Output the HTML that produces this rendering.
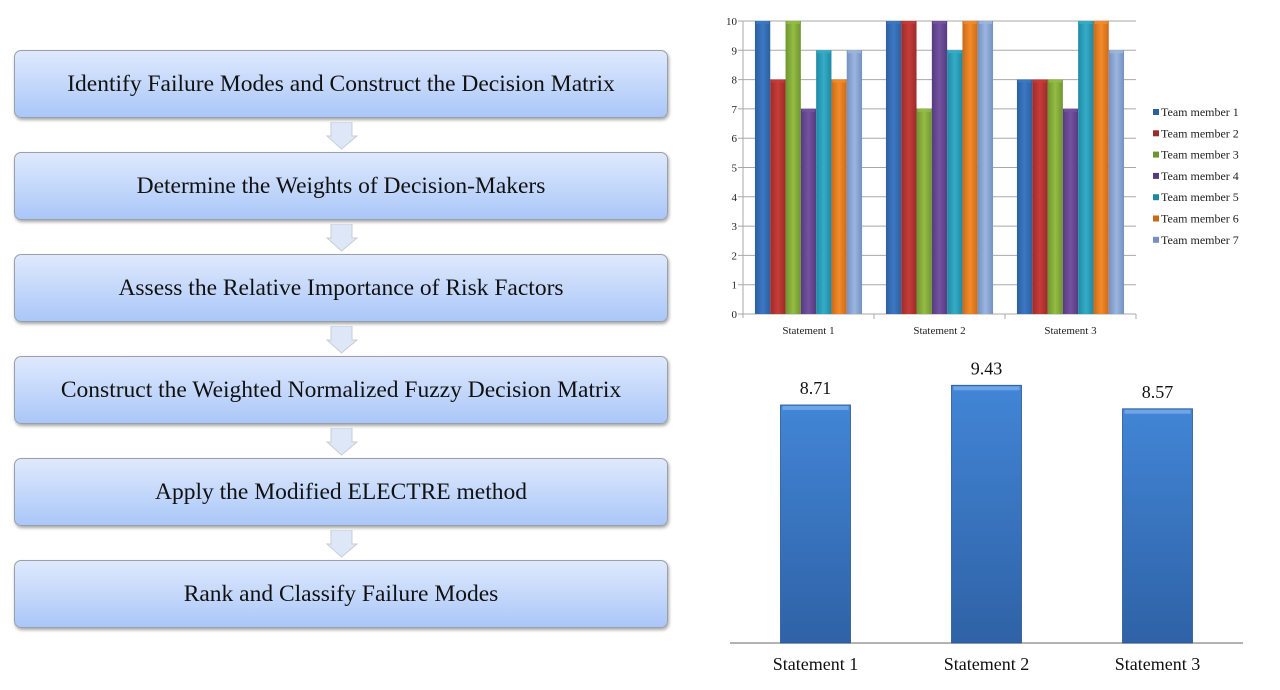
<!DOCTYPE html>
<html><head><meta charset="utf-8"><style>
body{margin:0;width:1280px;height:690px;background:#fff;position:relative;overflow:hidden;font-family:"Liberation Serif",serif;}
.box{position:absolute;left:14px;width:652px;height:66px;border:1px solid #9aa0a8;border-radius:7px;background:linear-gradient(#dfe9fd,#aac7f8);box-shadow:1px 2px 3px rgba(0,0,0,0.35);display:flex;align-items:center;justify-content:center;font-size:23.5px;color:#111;}
.arrow{position:absolute;left:326px;width:32px;height:28px;}
</style></head><body>
<div>
<div class="box" style="top:50px">Identify Failure Modes and Construct the Decision Matrix</div>
<div class="box" style="top:152px">Determine the Weights of Decision-Makers</div>
<div class="box" style="top:254px">Assess the Relative Importance of Risk Factors</div>
<div class="box" style="top:356px">Construct the Weighted Normalized Fuzzy Decision Matrix</div>
<div class="box" style="top:458px">Apply the Modified ELECTRE method</div>
<div class="box" style="top:560px">Rank and Classify Failure Modes</div>
<svg class="arrow" style="top:122px" viewBox="0 0 32 28"><path d="M5 0H26V14H31L15.5 27L1 14H5Z" fill="#dde7f7" stroke="#c8ccd4"/></svg>
<svg class="arrow" style="top:224px" viewBox="0 0 32 28"><path d="M5 0H26V14H31L15.5 27L1 14H5Z" fill="#dde7f7" stroke="#c8ccd4"/></svg>
<svg class="arrow" style="top:326px" viewBox="0 0 32 28"><path d="M5 0H26V14H31L15.5 27L1 14H5Z" fill="#dde7f7" stroke="#c8ccd4"/></svg>
<svg class="arrow" style="top:428px" viewBox="0 0 32 28"><path d="M5 0H26V14H31L15.5 27L1 14H5Z" fill="#dde7f7" stroke="#c8ccd4"/></svg>
<svg class="arrow" style="top:530px" viewBox="0 0 32 28"><path d="M5 0H26V14H31L15.5 27L1 14H5Z" fill="#dde7f7" stroke="#c8ccd4"/></svg>
</div>
<svg id="topchart" width="1280" height="690" style="position:absolute;left:0;top:0;pointer-events:none" font-family="Liberation Serif, serif"></svg>
<svg id="botchart" width="1280" height="690" style="position:absolute;left:0;top:0;pointer-events:none" font-family="Liberation Serif, serif"></svg>
<script>
const categories=["Statement 1","Statement 2","Statement 3"];
const seriesNames=["Team member 1","Team member 2","Team member 3","Team member 4","Team member 5","Team member 6","Team member 7"];
const member1=[10,10,8];
const member2=[8,10,8];
const member3=[10,7,8];
const member4=[7,10,7];
const member5=[9,9,10];
const member6=[8,10,10];
const member7=[9,10,9];
const yTicks=[0,1,2,3,4,5,6,7,8,9,10];
const averages=[8.71,9.43,8.57];
const avgLabels=["8.71","9.43","8.57"];

const NS="http://www.w3.org/2000/svg";
function mk(p,t,a){const e=document.createElementNS(NS,t);for(const k in a)e.setAttribute(k,a[k]);p.appendChild(e);return e;}
const colors=[["#2d5f9e","#3b78c4"],["#9c2b2b","#c63c39"],["#6f9431","#93bd43"],["#563b7e","#7452a0"],["#1f89a3","#35acc8"],["#c96a1b","#f48b28"],["#7390bf","#9bb6e0"]];
const series=[member1,member2,member3,member4,member5,member6,member7];
const topSvg=document.getElementById('topchart');
const defs=mk(topSvg,'defs',{});
colors.forEach((c,i)=>{const g=mk(defs,'linearGradient',{id:'g'+i,x1:0,x2:1,y1:0,y2:0});
mk(g,'stop',{offset:0,'stop-color':c[0]});mk(g,'stop',{offset:0.5,'stop-color':c[1]});mk(g,'stop',{offset:1,'stop-color':c[0]});});
const X0=743,X1=1136,Y0=314,Y10=21;
const yS=v=>Y0-(Y0-Y10)*v/10;
const cw=(X1-X0)/categories.length, bw=15.3, pad=(cw-bw*7)/2;
yTicks.forEach(t=>{
 const l=mk(topSvg,'line',{x1:X0-5,x2:X1,y1:yS(t),y2:yS(t),stroke:'#a8a8a8'});
 
 
 const tx=mk(topSvg,'text',{x:X0-6,y:yS(t)+4,'text-anchor':'end','font-size':11,fill:'#222'});tx.textContent=t;
 
 
});
mk(topSvg,'line',{x1:X0,x2:X0,y1:Y10,y2:Y0+4,stroke:'#a8a8a8'});
categories.forEach((c,ci)=>{
 mk(topSvg,'line',{x1:X0+cw*(ci+1),x2:X0+cw*(ci+1),y1:Y0,y2:Y0+5,stroke:'#a8a8a8'});
 const tx=mk(topSvg,'text',{x:X0+cw*(ci+0.5),y:Y0+20,'text-anchor':'middle','font-size':11,fill:'#222'});tx.textContent=c;
 
 
 series.forEach((s,si)=>{
  const x=X0+cw*ci+pad+bw*si,y=yS(s[ci]);
  const r=mk(topSvg,'rect',{x:x,y:y,width:bw,height:Y0-y,fill:'url(#g'+si+')'});
  
  
  mk(topSvg,'rect',{x:x+1,y:y,width:bw-2,height:3,fill:colors[si][1],opacity:0.8});
 });
});
seriesNames.forEach((n,i)=>{
 const y=113+i*21.3;
 const m=mk(topSvg,'rect',{x:1153,y:y-4,width:6,height:6,fill:colors[i][0]});
 
 
 const tx=mk(topSvg,'text',{x:1161,y:y+3,'font-size':12,fill:'#222'});tx.textContent=n;
 
 
});

const botSvg=document.getElementById('botchart');
const d2=mk(botSvg,'defs',{});
const bg=mk(d2,'linearGradient',{id:'bg',x1:0,x2:0,y1:0,y2:1});
mk(bg,'stop',{offset:0,'stop-color':'#4285d6'});mk(bg,'stop',{offset:1,'stop-color':'#2f62a6'});
const BX0=730,BX1=1243,BY0=643,perU=27.33;
const bcw=(BX1-BX0)/categories.length,bbw=70;
mk(botSvg,'line',{x1:BX0,x2:BX1,y1:BY0,y2:BY0,stroke:'#9a9a9a','stroke-width':1.5});
averages.forEach((v,i)=>{
 const cx=BX0+bcw*(i+0.5),y=BY0-v*perU;
 const r=mk(botSvg,'rect',{x:cx-bbw/2,y:y,width:bbw,height:BY0-y,fill:'url(#bg)',stroke:'#2a5592','stroke-width':0.8});
 
 
 mk(botSvg,'rect',{x:cx-bbw/2+2,y:y+1,width:bbw-4,height:4,fill:'#6fa4e8'});
 const t=mk(botSvg,'text',{x:cx,y:y-11,'text-anchor':'middle','font-size':18,fill:'#111'});t.textContent=avgLabels[i];
 
 
 const c=mk(botSvg,'text',{x:cx,y:BY0+27,'text-anchor':'middle','font-size':18,fill:'#111'});c.textContent=categories[i];
 
 
});
</script>
</body></html>
